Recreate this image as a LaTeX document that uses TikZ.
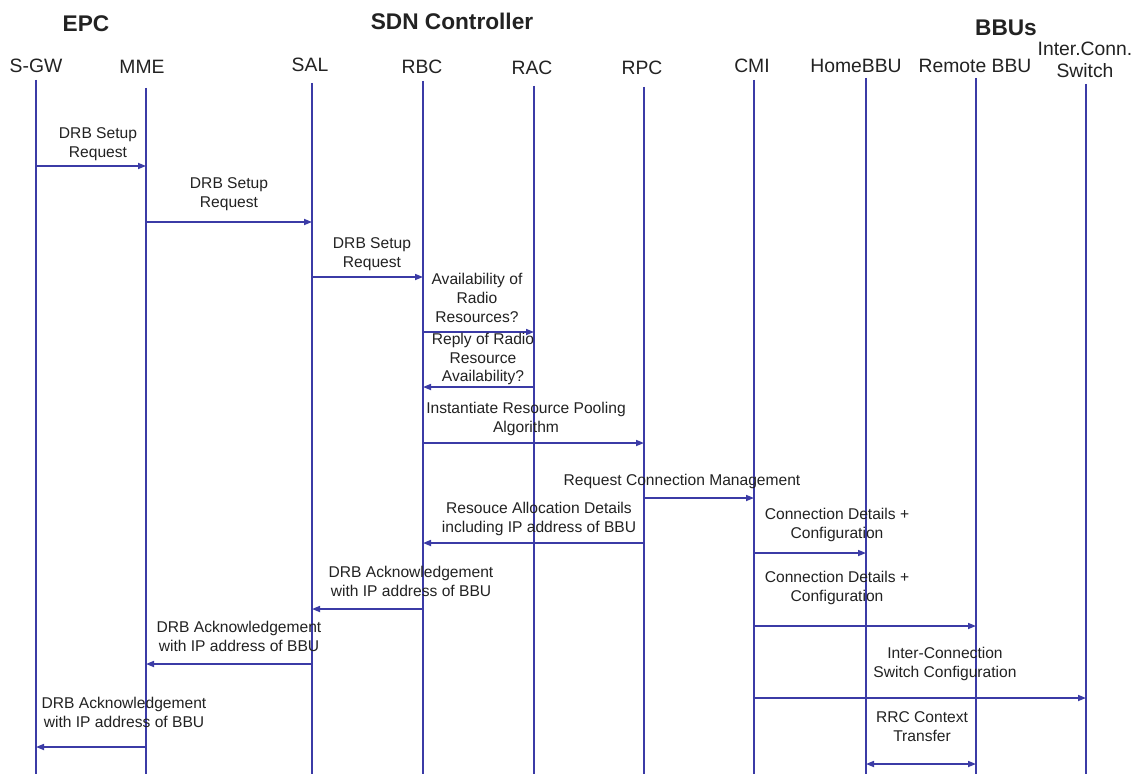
\documentclass[tikz,border=0pt]{standalone}
\usepackage{fontspec}
\setmainfont{Liberation Sans}
\usetikzlibrary{arrows.meta}
\definecolor{lifeblue}{HTML}{3B3BA6}
\definecolor{txt}{HTML}{222222}
\begin{document}
\begin{tikzpicture}[x=0.75pt,y=-0.75pt,
  lifeline/.style={draw=lifeblue,line width=1.2pt},
  msg/.style={draw=lifeblue,line width=1.2pt,-{Triangle[length=6pt,width=4.5pt]}},
  bimsg/.style={draw=lifeblue,line width=1.2pt,{Triangle[length=6pt,width=4.5pt]}-{Triangle[length=6pt,width=4.5pt]}},
  lbl/.style={text=txt,align=center,inner sep=0pt,font=\fontsize{11.7pt}{14.2pt}\selectfont},
  head/.style={text=txt,align=center,inner sep=0pt,font=\fontsize{14.5pt}{16pt}\selectfont},
  grp/.style={text=txt,inner sep=0pt,font=\fontsize{17pt}{20pt}\selectfont\bfseries}]
\useasboundingbox[fill=white] (0,0) rectangle (1146,774);
% group titles
\node[grp] (tepc) at (86,24) {EPC};
\node[grp] (tsdn) at (452,21) {SDN Controller};
\node[grp] (tbbu) at (1006,28) {BBUs};
% lifeline heads
\node[head] (hsgw) at (36,66) {S-GW};
\node[head] (hmme) at (142,67) {MME};
\node[head] (hsal) at (310,65) {SAL};
\node[head] (hrbc) at (422,67) {RBC};
\node[head] (hrac) at (532,68) {RAC};
\node[head] (hrpc) at (642,68) {RPC};
\node[head] (hcmi) at (752,66) {CMI};
\node[head] (hhome) at (856,66) {HomeBBU};
\node[head] (hrem) at (975,66) {Remote BBU};
\node[head] (hic) at (1085,60) {Inter.Conn.\\Switch};
% lifelines
\coordinate (sgw) at (36,80);   \coordinate (sgwb) at (36,774);
\coordinate (mme) at (146,88);  \coordinate (mmeb) at (146,774);
\coordinate (sal) at (312,83);  \coordinate (salb) at (312,774);
\coordinate (rbc) at (423,81);  \coordinate (rbcb) at (423,774);
\coordinate (rac) at (534,86);  \coordinate (racb) at (534,774);
\coordinate (rpc) at (644,87);  \coordinate (rpcb) at (644,774);
\coordinate (cmi) at (754,80);  \coordinate (cmib) at (754,774);
\coordinate (home) at (866,78); \coordinate (homeb) at (866,774);
\coordinate (rem) at (976,78);  \coordinate (remb) at (976,774);
\coordinate (ic) at (1086,84);  \coordinate (icb) at (1086,774);
\foreach \a/\b in {sgw/sgwb,mme/mmeb,sal/salb,rbc/rbcb,rac/racb,rpc/rpcb,cmi/cmib,home/homeb,rem/remb,ic/icb}
  \draw[lifeline] (\a) -- (\b);
% messages
\draw[msg] (sgw |- 0,166) -- (mme |- 0,166);
\node[lbl] (l1) at (98,144) {DRB Setup\\Request};
\draw[msg] (mme |- 0,222) -- (sal |- 0,222);
\node[lbl] (l2) at (229,194) {DRB Setup\\Request};
\draw[msg] (sal |- 0,277) -- (rbc |- 0,277);
\node[lbl] (l3) at (372,254) {DRB Setup\\Request};
\draw[msg] (rbc |- 0,332) -- (rac |- 0,332);
\node[lbl] (l4) at (477,298) {Availability of\\Radio\\Resources?};
\draw[msg] (rac |- 0,387) -- (rbc |- 0,387);
\node[lbl] (l5) at (483,359) {Reply of Radio\\Resource\\Availability?};
\draw[msg] (rbc |- 0,443) -- (rpc |- 0,443);
\node[lbl] (l6) at (526,419) {Instantiate Resource Pooling\\Algorithm};
\draw[msg] (rpc |- 0,498) -- (cmi |- 0,498);
\node[lbl] (l7) at (682,481) {Request Connection Management};
\draw[msg] (rpc |- 0,543) -- (rbc |- 0,543);
\node[lbl] (l8) at (539,519) {Resouce Allocation Details\\including IP address of BBU};
\draw[msg] (cmi |- 0,553) -- (home |- 0,553);
\node[lbl] (l9) at (837,525) {Connection Details +\\Configuration};
\draw[msg] (rbc |- 0,609) -- (sal |- 0,609);
\node[lbl] (l10) at (411,581) {DRB Acknowledgement\\with IP address of BBU};
\draw[msg] (cmi |- 0,626) -- (rem |- 0,626);
\node[lbl] (l11) at (837,588) {Connection Details +\\Configuration};
\draw[msg] (sal |- 0,664) -- (mme |- 0,664);
\node[lbl] (l12) at (239,636) {DRB Acknowledgement\\with IP address of BBU};
\draw[msg] (cmi |- 0,698) -- (ic |- 0,698);
\node[lbl] (l13) at (945,664) {Inter-Connection\\Switch Configuration};
\draw[msg] (mme |- 0,747) -- (sgw |- 0,747);
\node[lbl] (l14) at (124,712) {DRB Acknowledgement\\with IP address of BBU};
\draw[bimsg] (home |- 0,764) -- (rem |- 0,764);
\node[lbl] (l15) at (922,727) {RRC Context\\Transfer};
\end{tikzpicture}
\end{document}
